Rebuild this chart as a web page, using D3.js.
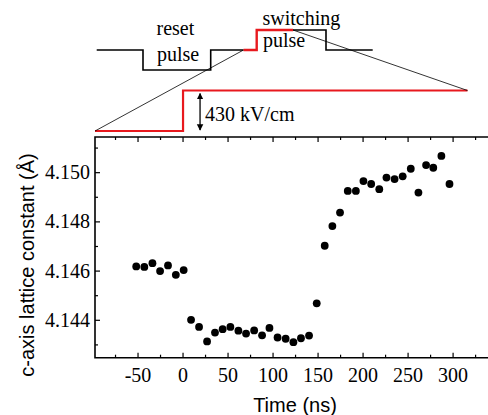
<!DOCTYPE html>
<html>
<head>
<meta charset="utf-8">
<script src="https://cdn.jsdelivr.net/npm/d3@7"></script>
<style>
  body { margin: 0; background: #fff; }
  svg { display: block; }
</style>
</head>
<body>
<div id="container"></div>
<script>
// Measured c-axis lattice constant vs delay time
const times = [-52, -43, -34, -25.5, -16.7, -8, 0.7, 8.9, 17.8, 26.7, 35.5, 44, 52.6, 61.5, 70, 79, 87.8, 96,
  105, 114, 122.6, 131, 140, 148.5, 157.4, 165.9, 174.4, 183, 192, 200.4, 209, 218, 226, 235, 244, 253,
  261.5, 270, 278, 287, 296];
const lattice = [4.14619, 4.14617, 4.14632, 4.14600, 4.14623, 4.14585, 4.14604, 4.14402, 4.14373, 4.14314,
  4.14350, 4.14364, 4.14373, 4.14358, 4.14346, 4.14359, 4.14339, 4.14369, 4.14330, 4.14325, 4.14311,
  4.14327, 4.14338, 4.14469, 4.14703, 4.14783, 4.14838, 4.14926, 4.14926, 4.14966, 4.14954, 4.14933,
  4.14980, 4.14974, 4.14985, 4.15016, 4.14919, 4.15031, 4.15020, 4.15068, 4.14954];

const xTicks = [-50, 0, 50, 100, 150, 200, 250, 300];
const xMinor = [-75, -25, 25, 75, 125, 175, 225, 275, 325];
const yTicks = [4.144, 4.146, 4.148, 4.150];
const yMinor = [4.143, 4.145, 4.147, 4.149, 4.151];

// applied field step (drawn on the time axis)
const stepTimes = [-97.8, 0, 0, 316];
const stepField = [0, 0, 430, 430];

// pulse sequence schematic (arbitrary time units, level -1/0/1)
const pulseT = [0, 46.3, 46.3, 114, 114, 146.8, 160, 160, 196.3, 229.3, 229.3, 276];
const pulseLevel = [0, 0, -1, -1, 0, 0, 0, 1, 1, 1, 0, 0];

const width = 488, height = 415;

const svg = d3.create("svg")
  .attr("width", width)
  .attr("height", height);

// Scales
const x = d3.scaleLinear().domain([-97.8, 341]).range([95, 490]);
const y = d3.scaleLinear().domain([4.14248, 4.15145]).range([357.7, 137]);
const fy = d3.scaleLinear().domain([0, 430]).range([131, 90.5]);
const px = d3.scaleLinear().domain([0, 276]).range([96.7, 372.7]);
const py = d3.scaleLinear().domain([-1, 1]).range([70, 30]);

const serif = "'Liberation Serif', 'Times New Roman', serif";
const sans = "'Liberation Sans', Arial, sans-serif";

// ---------- schematic ----------
const pulse = pulseT.map((t, i) => [px(t), py(pulseLevel[i])]);
const line = d3.line();

svg.append("path")
  .attr("d", line(pulse.slice(0, 6)))
  .attr("fill", "none").attr("stroke", "#000").attr("stroke-width", 1.6);
svg.append("path")
  .attr("d", line(pulse.slice(8)))
  .attr("fill", "none").attr("stroke", "#000").attr("stroke-width", 1.6);
svg.append("path")
  .attr("d", line(pulse.slice(5, 9)))
  .attr("fill", "none").attr("stroke", "#e8191e").attr("stroke-width", 2.4);

// field step
const step = stepTimes.map((t, i) => [x(t), fy(stepField[i])]);
svg.append("path")
  .attr("d", line(step))
  .attr("fill", "none").attr("stroke", "#e8191e").attr("stroke-width", 2.2);

// zoom guide lines
svg.append("line")
  .attr("x1", step[0][0]).attr("y1", step[0][1])
  .attr("x2", pulse[5][0]).attr("y2", pulse[5][1])
  .attr("stroke", "#000").attr("stroke-width", 0.8);
svg.append("line")
  .attr("x1", pulse[8][0]).attr("y1", pulse[8][1])
  .attr("x2", step[3][0]).attr("y2", step[3][1])
  .attr("stroke", "#000").attr("stroke-width", 0.8);

// double arrow for field amplitude
const defs = svg.append("defs");
defs.append("marker")
  .attr("id", "ah").attr("viewBox", "0 0 10 10")
  .attr("refX", 9).attr("refY", 5)
  .attr("markerWidth", 5).attr("markerHeight", 6)
  .attr("orient", "auto-start-reverse")
  .append("path").attr("d", "M0,0L10,5L0,10z").attr("fill", "#000");
svg.append("line")
  .attr("x1", x(18.9)).attr("x2", x(18.9))
  .attr("y1", fy(430) + 3).attr("y2", fy(0) - 1)
  .attr("stroke", "#000").attr("stroke-width", 1.3)
  .attr("marker-start", "url(#ah)").attr("marker-end", "url(#ah)");

svg.append("text")
  .attr("x", 205).attr("y", 121)
  .attr("font-family", serif).attr("font-size", 20)
  .text("430 kV/cm");

const labels = [
  { t: "reset", x: 156.5, y: 34.5 },
  { t: "pulse", x: 157, y: 61 },
  { t: "switching", x: 262.5, y: 24.5 },
  { t: "pulse", x: 263, y: 46.5 }
];
svg.selectAll(".lab")
  .data(labels)
  .enter().append("text")
  .attr("x", d => d.x).attr("y", d => d.y)
  .attr("font-family", serif).attr("font-size", 20)
  .text(d => d.t);

// ---------- plot ----------
const [x0, x1] = x.range();
const [y0, y1] = y.range();

// frame (right side runs off the image)
svg.append("path")
  .attr("d", `M${x1},${y1}H${x0}V${y0}H${x1}`)
  .attr("fill", "none").attr("stroke", "#000").attr("stroke-width", 1.6);

const tickG = svg.append("g").attr("stroke", "#000").attr("stroke-width", 1.2);
// x ticks, bottom and top, pointing inward
xTicks.forEach(v => {
  tickG.append("line").attr("x1", x(v)).attr("x2", x(v)).attr("y1", y0).attr("y2", y0 - 5);
  tickG.append("line").attr("x1", x(v)).attr("x2", x(v)).attr("y1", y1).attr("y2", y1 + 5);
});
xMinor.forEach(v => {
  tickG.append("line").attr("x1", x(v)).attr("x2", x(v)).attr("y1", y0).attr("y2", y0 - 3);
  tickG.append("line").attr("x1", x(v)).attr("x2", x(v)).attr("y1", y1).attr("y2", y1 + 3);
});
yTicks.forEach(v => {
  tickG.append("line").attr("x1", x0).attr("x2", x0 + 5).attr("y1", y(v)).attr("y2", y(v));
});
yMinor.forEach(v => {
  tickG.append("line").attr("x1", x0).attr("x2", x0 + 3).attr("y1", y(v)).attr("y2", y(v));
});

svg.selectAll(".xl")
  .data(xTicks)
  .enter().append("text")
  .attr("x", d => x(d)).attr("y", 381.5)
  .attr("text-anchor", "middle")
  .attr("font-family", serif).attr("font-size", 20)
  .text(d => d < 0 ? "-" + Math.abs(d) : d);

svg.selectAll(".yl")
  .data(yTicks)
  .enter().append("text")
  .attr("x", 90).attr("y", d => y(d) + 6.5)
  .attr("text-anchor", "end")
  .attr("font-family", serif).attr("font-size", 20)
  .text(d => d3.format(".3f")(d));

// data points
svg.selectAll(".pt")
  .data(times)
  .enter().append("circle")
  .attr("cx", (d) => x(d))
  .attr("cy", (d, i) => y(lattice[i]))
  .attr("r", 3.9)
  .attr("fill", "#000");

// axis titles
svg.append("text")
  .attr("x", 295).attr("y", 411.5)
  .attr("text-anchor", "middle")
  .attr("font-family", sans).attr("font-size", 20)
  .text("Time (ns)");

svg.append("text")
  .attr("transform", "translate(34,265) rotate(-90)")
  .attr("text-anchor", "middle")
  .attr("font-family", sans).attr("font-size", 20)
  .text("c-axis lattice constant (Å)");

document.getElementById("container").append(svg.node());
</script>
</body>
</html>
